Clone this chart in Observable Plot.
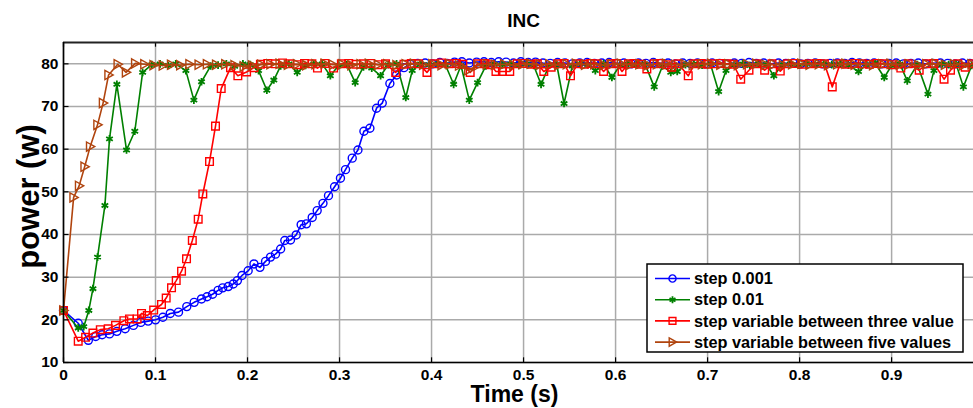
<!DOCTYPE html>
<html><head><meta charset="utf-8">
<script src="https://cdn.jsdelivr.net/npm/d3@7"></script>
<script src="https://cdn.jsdelivr.net/npm/@observablehq/plot@0.6"></script>
<style>body{margin:0;background:#fff;} #chart{width:973px;height:408px;overflow:hidden;}</style>
</head><body><div id="chart"></div>
<script>
const titleText = "INC";
const xLabel = "Time (s)";
const yLabel = "power (w)";
const xTicks = [0, 0.1, 0.2, 0.3, 0.4, 0.5, 0.6, 0.7, 0.8, 0.9];
const yTicks = [10, 20, 30, 40, 50, 60, 70, 80];
const seriesNames = ["step 0.001", "step 0.01", "step variable between three value", "step variable between five values"];
const seriesColors = ["#0000ff", "#008000", "#ff0000", "#b0440e"];

// step 0.001  [time, power]
const blue = [[0,22.2],[0.016,19.2],[0.027,15.2],[0.035,16.1],[0.042,16.5],[0.05,16.7],[0.058,17.3],[0.067,17.9],[0.076,18.7],[0.084,19.4],[0.092,19.7],[0.1,20.0],[0.108,20.6],[0.116,21.5],[0.125,21.8],[0.134,23.1],[0.142,24.1],[0.15,24.9],[0.156,25.4],[0.162,26.0],[0.168,26.9],[0.173,27.5],[0.179,27.8],[0.1845,28.4],[0.189,29.2],[0.194,30.4],[0.2007,31.5],[0.207,33.1],[0.2135,32.3],[0.2196,33.7],[0.225,34.7],[0.2304,35.4],[0.236,36.6],[0.2405,38.6],[0.2467,38.7],[0.2529,39.9],[0.2583,42.3],[0.264,42.5],[0.2703,44.0],[0.2757,45.6],[0.282,47.3],[0.288,49.1],[0.2946,51.2],[0.301,53.2],[0.3065,55.2],[0.3138,57.9],[0.32,59.8],[0.3265,64.2],[0.333,64.9],[0.3402,69.6],[0.3464,70.8],[0.3547,75.4],[0.362,77.4],[0.37,79.1],[0.377,79.9],
[0.385,80.1],[0.393,80.2],[0.401,80.0],[0.409,80.3],[0.417,80.1],[0.425,80.4],[0.433,80.5],[0.441,80.2],[0.449,80.4],[0.457,80.5],[0.465,80.3],[0.473,80.5],[0.481,80.4],[0.489,80.2],[0.497,80.5],[0.505,80.3],[0.513,80.4],[0.521,80.2],[0.529,80.1],[0.537,80.3],[0.545,80.2],[0.553,80.0],[0.561,80.2],[0.569,80.3],[0.577,80.1],[0.585,80.2],[0.593,80.3],[0.601,80.1],[0.609,80.2],[0.617,80.0],[0.625,80.2],[0.633,80.1],[0.641,80.3],[0.649,80.1],[0.657,80.2],[0.665,80.0],[0.673,80.2],[0.681,80.1],[0.689,80.2],[0.697,80.0],[0.705,80.2],[0.713,80.1],[0.721,80.0],[0.729,80.2],[0.737,80.1],[0.745,80.3],[0.753,80.1],[0.761,80.2],[0.769,80.0],[0.777,80.2],[0.785,80.1],[0.793,80.2],[0.801,80.0],[0.809,80.1],[0.817,80.2],[0.825,80.0],[0.833,80.1],[0.841,80.2],[0.849,80.1],[0.857,80.3],[0.865,80.2],[0.873,80.1],[0.881,80.2],[0.889,80.0],[0.897,80.1],[0.905,80.2],[0.913,80.0],[0.921,80.1],[0.929,80.2],[0.937,80.0],[0.945,80.1],[0.953,80.2],[0.961,80.1],[0.969,80.0],[0.977,80.2],[0.985,80.1]];

// step 0.01
const green = [[0,22.2],[0.016,18.1],[0.022,18.4],[0.0275,22.2],[0.032,27.3],[0.037,34.7],[0.045,46.8],[0.05,62.4],[0.058,75.2],[0.0685,59.8],[0.0775,64.2],[0.086,78.0],[0.096,79.8],[0.105,80.0],[0.114,79.6],[0.122,80.0],[0.133,78.4],[0.1417,71.5],[0.15,75.8],[0.16,79.5],[0.168,79.7],[0.177,80.0],[0.186,79.4],[0.195,80.0],[0.203,79.8],[0.212,78.4],[0.221,73.8],[0.2286,76.2],[0.236,79.5],[0.245,80.0],[0.254,78.0],[0.263,79.6],[0.272,80.0],[0.281,80.0],[0.29,77.2],[0.299,79.6],[0.308,79.8],[0.317,75.6],[0.326,79.3],[0.335,79.0],[0.3446,77.2],[0.353,79.8],[0.362,80.0],[0.372,72.1],[0.379,78.4],[0.388,80.0],[0.397,79.8],[0.406,80.0],[0.415,79.8],[0.424,75.2],[0.432,79.6],[0.441,71.5],[0.45,75.6],[0.459,79.5],[0.468,80.0],[0.477,79.8],[0.486,80.0],[0.495,79.7],[0.503,80.0],[0.511,79.6],[0.519,75.2],[0.528,79.7],[0.536,79.9],[0.544,70.7],[0.553,79.5],[0.561,80.0],[0.57,79.8],[0.578,78.4],[0.587,80.0],[0.596,76.8],[0.605,79.7],[0.614,80.0],[0.623,79.8],[0.632,80.0],[0.642,74.6],[0.651,79.5],[0.66,78.0],[0.667,78.2],[0.676,79.8],[0.685,80.0],[0.694,79.7],[0.703,80.0],[0.712,73.5],[0.72,78.4],[0.729,79.8],[0.738,80.0],[0.746,79.6],[0.755,80.0],[0.764,79.8],[0.772,77.2],[0.781,79.8],[0.79,80.0],[0.799,79.7],[0.808,80.0],[0.817,79.9],[0.826,80.0],[0.835,79.8],[0.844,80.0],[0.853,79.7],[0.864,78.2],[0.873,79.8],[0.882,80.2],[0.892,76.8],[0.9,79.6],[0.909,80.0],[0.917,76.0],[0.928,79.8],[0.9395,72.9],[0.946,78.4],[0.955,80.0],[0.962,79.8],[0.97,80.0],[0.978,74.6],[0.987,79.6]];

// step variable between three value
const red = [[0,22.2],[0.016,15.0],[0.024,15.9],[0.032,16.9],[0.04,17.7],[0.0486,17.9],[0.0565,18.7],[0.0656,19.8],[0.0717,20.2],[0.08,20.2],[0.0848,21.5],[0.091,21.0],[0.098,22.3],[0.1065,23.6],[0.1116,25.1],[0.1174,27.5],[0.1225,29.2],[0.1283,31.4],[0.1337,34.3],[0.14,38.6],[0.1464,43.6],[0.1514,49.5],[0.1587,57.1],[0.1652,65.4],[0.1714,74.2],[0.1815,79.1],[0.1895,77.2],[0.199,78.1],[0.207,79.1],[0.214,79.9],[0.222,80.1],[0.23,80.0],[0.238,80.2],[0.246,80.0],[0.254,79.8],[0.262,80.1],[0.27,80.0],[0.276,79.0],[0.284,80.1],[0.2935,79.0],[0.302,80.0],[0.31,80.1],[0.318,79.9],[0.326,80.0],[0.334,80.1],[0.342,79.8],[0.35,80.0],[0.361,78.0],[0.37,79.9],[0.378,80.1],[0.386,80.0],[0.395,78.0],[0.403,80.0],[0.411,80.2],[0.419,80.0],[0.427,80.1],[0.434,79.9],[0.442,78.0],[0.45,80.0],[0.458,80.1],[0.464,79.8],[0.47,78.2],[0.477,78.2],[0.485,78.2],[0.493,80.0],[0.5,80.1],[0.508,79.9],[0.515,80.0],[0.522,78.2],[0.53,79.2],[0.537,80.0],[0.544,80.1],[0.551,77.2],[0.559,80.0],[0.566,79.9],[0.573,80.1],[0.58,80.0],[0.587,78.2],[0.595,80.0],[0.601,80.1],[0.607,78.2],[0.614,80.0],[0.621,80.1],[0.628,79.9],[0.634,78.8],[0.642,80.0],[0.649,80.1],[0.655,79.8],[0.661,79.2],[0.668,80.0],[0.679,77.2],[0.686,80.0],[0.693,80.1],[0.7,79.9],[0.707,80.0],[0.714,80.1],[0.721,80.0],[0.728,79.9],[0.736,76.4],[0.745,78.5],[0.753,80.0],[0.762,78.5],[0.77,80.0],[0.779,78.3],[0.787,80.0],[0.795,80.1],[0.803,79.9],[0.811,80.0],[0.819,80.1],[0.827,80.0],[0.8355,74.6],[0.844,80.0],[0.852,79.9],[0.86,80.1],[0.868,80.0],[0.876,79.9],[0.884,80.1],[0.892,80.0],[0.9,79.8],[0.91,79.0],[0.918,80.0],[0.93,78.5],[0.938,80.0],[0.946,80.1],[0.957,76.4],[0.964,78.5],[0.972,80.0],[0.98,79.2],[0.988,80.0]];

// step variable between five values
const brown = [[0,22.2],[0.011,48.7],[0.017,51.4],[0.023,55.9],[0.029,60.6],[0.037,65.7],[0.043,70.8],[0.049,77.4],[0.059,79.9],[0.068,78.0],[0.078,80.1],[0.088,79.9],[0.098,79.7],[0.108,79.6],[0.117,79.8],[0.127,79.7],[0.137,79.9],[0.147,79.8],[0.156,79.9],[0.166,79.8],[0.176,79.9],[0.186,79.7],[0.196,79.4],[0.205,79.6],[0.215,79.8],[0.225,79.9],[0.235,80.0],[0.244,79.8],[0.254,79.9],[0.264,79.7],[0.274,79.9],[0.284,80.0],[0.293,79.8],[0.303,79.9],[0.313,79.7],[0.323,79.9],[0.332,80.0],[0.342,79.8],[0.352,79.9],[0.362,79.7],[0.372,79.9],[0.381,80.0],[0.391,79.8],[0.401,79.9],[0.411,79.7],[0.42,79.9],[0.43,79.6],[0.44,78.5],[0.45,79.6],[0.46,79.9],[0.469,79.8],[0.479,79.9],[0.489,79.7],[0.499,79.9],[0.508,80.0],[0.518,79.8],[0.528,79.9],[0.538,79.7],[0.547,79.9],[0.557,80.0],[0.567,79.8],[0.577,79.9],[0.587,79.7],[0.596,79.9],[0.606,80.0],[0.616,79.8],[0.626,79.9],[0.635,79.7],[0.645,79.9],[0.655,80.0],[0.665,79.8],[0.675,79.9],[0.684,79.7],[0.694,79.9],[0.704,80.0],[0.714,79.8],[0.723,79.9],[0.733,79.7],[0.743,79.9],[0.753,80.0],[0.763,79.8],[0.772,79.9],[0.782,79.7],[0.792,79.9],[0.802,80.0],[0.811,79.8],[0.821,79.9],[0.831,79.7],[0.841,79.9],[0.85,80.0],[0.86,79.8],[0.87,79.9],[0.88,79.7],[0.89,79.9],[0.899,80.0],[0.909,79.8],[0.919,79.9],[0.929,79.7],[0.938,79.9],[0.948,80.0],[0.958,79.8],[0.968,79.9],[0.978,79.7],[0.987,79.9]];

const seriesData = [blue, green, red, brown];

const triRight = {draw(ctx, size) {
  const r = Math.sqrt(size / Math.PI);
  ctx.moveTo(-r * 0.8, -r); ctx.lineTo(r, 0); ctx.lineTo(-r * 0.8, r); ctx.closePath();
}};
const symbols = ["circle", "asterisk", "square", triRight];
const radii = [4, 3.6, 4.3, 4.6];
const d3Symbols = [d3.symbolCircle, d3.symbolAsterisk, d3.symbolSquare, triRight];

const font = "'Liberation Sans', Arial, Helvetica, sans-serif";

const seriesMarks = [];
seriesData.forEach((pts, i) => {
  seriesMarks.push(Plot.line(pts, {x: d => d[0], y: d => d[1], stroke: seriesColors[i], strokeWidth: 1.6}));
  seriesMarks.push(Plot.dot(pts, {x: d => d[0], y: d => d[1], symbol: symbols[i], r: radii[i], stroke: seriesColors[i], fill: "none", strokeWidth: i === 1 ? 1.8 : 1.4}));
});

const plot = Plot.plot({
  width: 973, height: 408,
  marginLeft: 63, marginRight: 0, marginTop: 42, marginBottom: 46,
  x: {domain: [0, 0.989]},
  y: {domain: [10, 85]},
  style: {fontFamily: font, fontSize: "15.5px", fontWeight: "bold", color: "#000", background: "#fff", overflow: "visible"},
  marks: [
    Plot.gridX(xTicks, {stroke: "#aaaaaa", strokeOpacity: 1, strokeWidth: 1.5}),
    Plot.gridY(yTicks, {stroke: "#aaaaaa", strokeOpacity: 1, strokeWidth: 1.5}),
    Plot.axisX(xTicks, {tickSize: 0, tickPadding: 6, tickFormat: d => String(d), label: null}),
    Plot.axisY(yTicks, {tickSize: 0, tickPadding: 5, label: null}),
    ...seriesMarks,
    Plot.ruleX(xTicks, {x: d => d, y1: 10, y2: 11.1, stroke: "#000", strokeWidth: 1.2}),
    Plot.ruleX(xTicks, {x: d => d, y1: 85, y2: 83.9, stroke: "#000", strokeWidth: 1.2}),
    Plot.ruleY(yTicks, {y: d => d, x1: 0, x2: 0.006, stroke: "#000", strokeWidth: 1.2}),
    Plot.ruleY([85], {stroke: "#222", strokeWidth: 2}),
    Plot.ruleY([10], {stroke: "#000", strokeWidth: 1.6}),
    Plot.ruleX([0], {stroke: "#000", strokeWidth: 1.6}),
    Plot.text([titleText], {frameAnchor: "top", lineAnchor: "middle", dx: 5, dy: -22, fontSize: 19, fontWeight: "bold", fill: "#000"}),
    Plot.text([xLabel], {frameAnchor: "bottom", lineAnchor: "middle", dx: -4, dy: 32, fontSize: 23, fontWeight: "bold", fill: "#000"}),
    Plot.text([yLabel], {frameAnchor: "left", dx: -34, dy: -6, rotate: -90, textAnchor: "middle", lineAnchor: "middle", fontSize: 31, fontWeight: "bold", fill: "#000"})
  ]
});

document.getElementById("chart").appendChild(plot);

// legend
const svg = d3.select(plot);
const lg = svg.append("g").attr("transform", "translate(647,264)");
lg.append("rect").attr("width", 316).attr("height", 88).attr("fill", "#fff").attr("stroke", "#000").attr("stroke-width", 1.5);
seriesNames.forEach((name, i) => {
  const cy = 14.5 + i * 21.2;
  lg.append("line").attr("x1", 8).attr("x2", 43).attr("y1", cy).attr("y2", cy).attr("stroke", seriesColors[i]).attr("stroke-width", 1.6);
  lg.append("path").attr("transform", `translate(25.5,${cy})`)
    .attr("d", d3.symbol(d3Symbols[i], Math.PI * radii[i] * radii[i] * 0.8)())
    .attr("fill", "none").attr("stroke", seriesColors[i]).attr("stroke-width", i === 1 ? 1.8 : 1.4);
  lg.append("text").attr("x", 47).attr("y", cy).attr("dy", "0.35em").attr("text-anchor", "start")
    .attr("font-family", font).attr("font-size", 16.3).attr("font-weight", "bold").attr("fill", "#000").text(name);
});
</script>
</body></html>
